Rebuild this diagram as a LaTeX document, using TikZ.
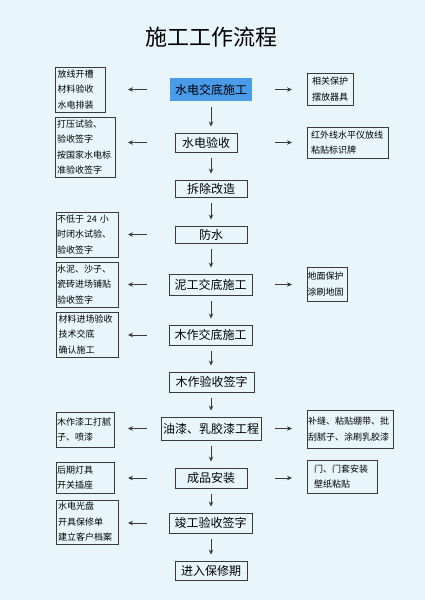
\documentclass[tikz,border=0pt]{standalone}
\usepackage{fontspec}
\setmainfont{Noto Sans CJK SC}
\usetikzlibrary{arrows.meta}
\definecolor{bg}{HTML}{E8F6FC}
\definecolor{hl}{HTML}{4A9BEA}
\definecolor{ln}{HTML}{3A3A3A}
\begin{document}
\begin{tikzpicture}[x=1pt,y=-1pt,
  mainbox/.style={draw=ln, line width=0.9pt, inner sep=0pt, font=\fontsize{12}{14}\selectfont},
  sidebox/.style={draw=ln, line width=0.9pt, inner xsep=2pt, inner ysep=0pt, align=left, font=\fontsize{9}{15.5}\selectfont},
  arr/.style={draw=ln, line width=1pt, -{Stealth[length=5pt,width=4.5pt]}},
  varr/.style={arr, shorten <=6pt, shorten >=6pt}]
\fill[bg] (0,0) rectangle (425,600);
\useasboundingbox (0,0) rectangle (425,600);

\node[font=\fontsize{22}{24}\selectfont] (title) at (211,37) {施工工作流程};

% centre column
\node[mainbox, draw=none, fill=hl, minimum width=82pt, minimum height=23pt] (c1) at (211,89.5) {水电交底施工};
\node[mainbox, minimum width=62pt, minimum height=19pt] (c2) at (206,142.5) {水电验收};
\node[mainbox, minimum width=72pt, minimum height=17pt] (c3) at (211,188.5) {拆除改造};
\node[mainbox, minimum width=72pt, minimum height=17pt] (c4) at (211,234.5) {防水};
\node[mainbox, minimum width=83pt, minimum height=21pt] (c5) at (210.5,284.5) {泥工交底施工};
\node[mainbox, minimum width=83pt, minimum height=20pt] (c6) at (210.5,335) {木作交底施工};
\node[mainbox, minimum width=85pt, minimum height=20pt] (c7) at (211.5,382) {木作验收签字};
\node[mainbox, minimum width=100pt, minimum height=23pt] (c8) at (211,428.5) {油漆、乳胶漆工程};
\node[mainbox, minimum width=72pt, minimum height=20pt] (c9) at (211,478) {成品安装};
\node[mainbox, minimum width=83pt, minimum height=20pt] (c10) at (210.5,523) {竣工验收签字};
\node[mainbox, minimum width=72pt, minimum height=19pt] (c11) at (211,570.5) {进入保修期};

% left boxes
\node[sidebox, text width=46pt, minimum height=45pt] (L1) at (80.5,89.5) {放线开槽\\材料验收\\水电排装};
\node[sidebox, text width=56pt, minimum height=60pt] (L2) at (85,147) {打压试验、\\验收签字\\按国家水电标\\准验收签字};
\node[sidebox, inner xsep=1pt, text width=60pt, minimum height=45pt] (L3) at (87,234.5) {不低于 24 小\\时闭水试验、\\验收签字};
\node[sidebox, inner xsep=1pt, text width=60pt, minimum height=45pt] (L4) at (87,284.5) {水泥、沙子、\\瓷砖进场铺贴\\验收签字};
\node[sidebox, inner xsep=2.5pt, text width=57pt, minimum height=45pt] (L5) at (87,334.5) {材料进场验收\\技术交底\\确认施工};
\node[sidebox, inner xsep=1pt, text width=56pt, minimum height=35pt] (L6) at (85,429.5) {木作漆工打腻\\子、喷漆};
\node[sidebox, inner xsep=1pt, text width=56pt, minimum height=31pt] (L7) at (85,477.5) {后期灯具\\开关插座};
\node[sidebox, inner xsep=2pt, text width=58pt, minimum height=44pt] (L8) at (87,522) {水电光盘\\开具保修单\\建立客户档案};

% right boxes
\node[sidebox, inner xsep=5pt, text width=36pt, minimum height=32pt] (R1) at (330,89) {相关保护\\摆放器具};
\node[sidebox, inner xsep=4pt, text width=73pt, minimum height=31pt] (R2) at (347.5,142.5) {红外线水平仪放线\\粘贴标识牌};
\node[sidebox, inner xsep=0.5pt, text width=39pt, minimum height=34pt] (R3) at (327,284) {地面保护\\涂刷地固};
\node[sidebox, inner xsep=1pt, text width=84pt, minimum height=38pt] (R4) at (350,429) {补缝、粘贴绷带、批\\刮腻子、涂刷乳胶漆};
\node[sidebox, inner xsep=7pt, text width=56pt, minimum height=33pt] (R5) at (342,476.5) {门、门套安装\\壁纸粘贴};

% guide coordinates for arrows
\coordinate (ax) at (211,0);
\coordinate (lA) at (147,0);
\coordinate (lB) at (128,0);
\coordinate (rA) at (275,0);
\coordinate (rB) at (292,0);

% vertical arrows
\foreach \a/\b in {c1/c2,c2/c3,c3/c4,c4/c5,c5/c6,c6/c7,c7/c8,c8/c9,c9/c10,c10/c11}
  \draw[varr] (\a.south -| ax) -- (\b.north -| ax);

% left arrows
\foreach \c in {c1,c2,c4,c5,c6,c8,c9,c10}
  \draw[arr] (\c.west -| lA) -- (\c.west -| lB);

% right arrows
\foreach \c in {c1,c2,c5,c8,c9}
  \draw[arr] (\c.east -| rA) -- (\c.east -| rB);
\end{tikzpicture}
\end{document}
